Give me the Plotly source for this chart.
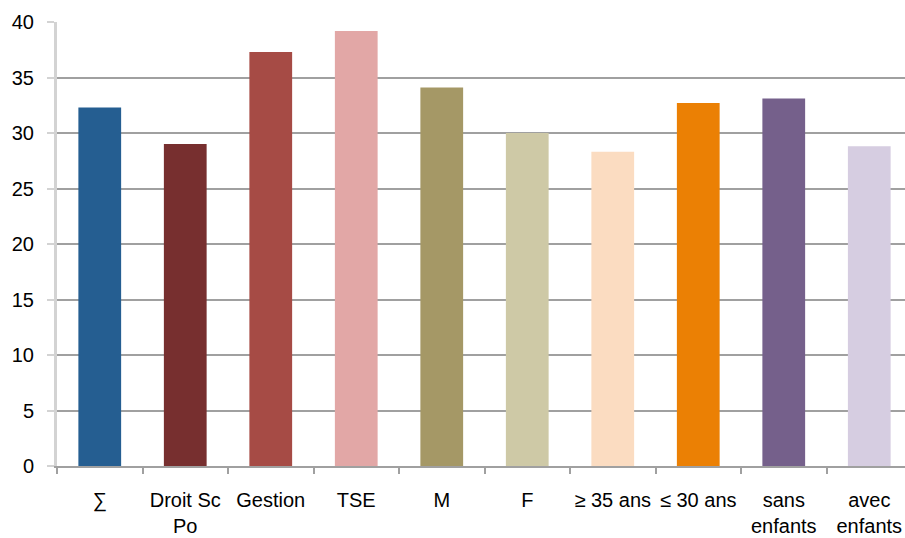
import plotly.graph_objects as go

# Categories, values and bar colours
categories = ["∑", "Droit Sc<br>Po", "Gestion", "TSE", "M", "F",
              "≥ 35 ans", "≤ 30 ans", "sans<br>enfants", "avec<br>enfants"]
values = [32.3, 29.0, 37.3, 39.2, 34.1, 30.0, 28.3, 32.7, 33.1, 28.8]
colors = ["#255E91", "#772F2F", "#A64B45", "#E2A7A6", "#A59866",
          "#CEC9A6", "#FBDCC1", "#EB8004", "#75608B", "#D6CDE1"]
y_ticks = [0, 5, 10, 15, 20, 25, 30, 35, 40]

fig = go.Figure(
    go.Bar(
        x=categories,
        y=values,
        marker=dict(color=colors, line=dict(width=0)),
        hoverinfo="skip",
    )
)

fig.update_layout(
    width=905,
    height=538,
    margin=dict(l=57, r=0, t=22, b=72),
    paper_bgcolor="white",
    plot_bgcolor="white",
    bargap=0.5,
    showlegend=False,
    font=dict(family="Liberation Sans, Arial, sans-serif", color="#000000"),
)

fig.update_xaxes(
    type="category",
    tickson="boundaries",
    range=[-0.5, 9.418],
    tickangle=0,
    automargin=False,
    showgrid=False,
    zeroline=False,
    showline=True,
    linecolor="#a0a0a0",
    linewidth=2,
    ticks="outside",
    ticklen=6,
    tickwidth=2,
    tickcolor="#a0a0a0",
    tickfont=dict(size=20),
    ticklabelstandoff=15,
)

fig.update_yaxes(
    range=[0, 40],
    tickvals=y_ticks,
    automargin=False,
    showgrid=True,
    gridcolor="#a0a0a0",
    gridwidth=2,
    zeroline=False,
    showline=True,
    linecolor="#d3d3d3",
    linewidth=3,
    ticks="outside",
    ticklen=7,
    tickwidth=2,
    tickcolor="#d3d3d3",
    tickfont=dict(size=20),
    ticklabelstandoff=9,
)

fig.write_html("out.html")
